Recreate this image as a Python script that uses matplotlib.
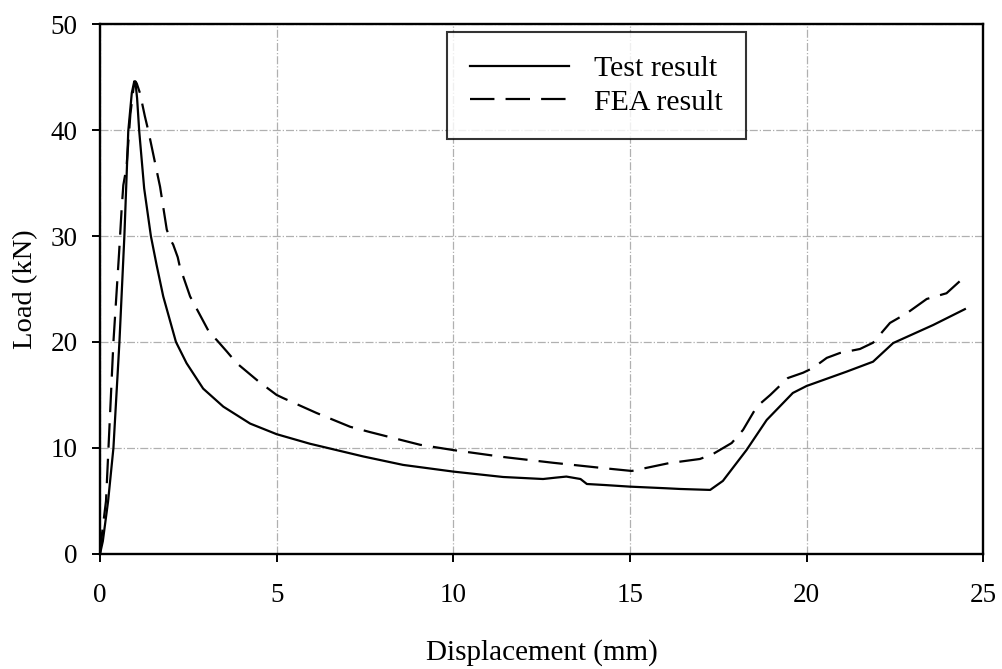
import numpy as np
import matplotlib
matplotlib.use("Agg")
import matplotlib.pyplot as plt

# Test result (solid)
test_x = [0.0, 0.08, 0.23, 0.38, 0.55, 0.69, 0.80, 0.90, 0.97, 1.01, 1.05, 1.11,
          1.25, 1.44, 1.60, 1.79, 2.15, 2.45, 2.92, 3.49, 4.25, 5.0, 5.94, 7.45,
          8.58, 10.0, 11.41, 12.54, 12.9, 13.2, 13.6, 13.78, 14.3, 15.0, 16.0, 16.42,
          17.27, 17.63, 18.30, 18.87, 19.61, 20.0, 21.13, 21.88, 22.45, 23.58, 24.48]
test_y = [0.0, 1.2, 5.0, 10.0, 20.0, 30.0, 39.9, 43.5, 44.6, 44.3, 43.0, 39.9,
          34.5, 30.0, 27.3, 24.3, 20.0, 18.0, 15.6, 13.9, 12.3, 11.3, 10.4, 9.2,
          8.4, 7.77, 7.26, 7.07, 7.2, 7.3, 7.07, 6.6, 6.5, 6.35, 6.2, 6.13,
          6.04, 6.89, 9.81, 12.64, 15.19, 15.85, 17.2, 18.14, 19.9, 21.6, 23.1]

# FEA result (dashed)
fea_x = [0.0, 0.06, 0.17, 0.24, 0.38, 0.54, 0.61, 0.66, 0.75, 0.86, 0.95, 1.0,
         1.04, 1.13, 1.27, 1.37, 1.70, 1.89, 2.0, 2.07, 2.2, 2.26, 2.55, 3.11,
         3.3, 3.59, 3.87, 4.48, 4.76, 5.0, 5.19, 6.13, 7.08, 7.64, 9.06, 10.0,
         11.41, 12.83, 14.24, 15.05, 16.15, 16.42, 16.98, 17.35, 17.88, 18.2, 18.59,
         18.97, 19.47, 19.9, 20.18, 20.57, 20.94, 21.51, 21.88, 22.36, 22.83, 23.4,
         23.96, 24.34]
fea_y = [0.0, 2.0, 5.0, 10.0, 20.0, 28.4, 32.4, 34.8, 36.5, 41.5, 44.0, 44.6,
         44.4, 43.5, 41.3, 39.9, 34.65, 30.6, 29.6, 29.2, 28.0, 27.1, 24.3, 20.8,
         20.2, 19.1, 18.0, 16.3, 15.6, 15.0, 14.7, 13.3, 12.0, 11.5, 10.3, 9.8,
         9.15, 8.6, 8.1, 7.83, 8.6, 8.71, 8.96, 9.43, 10.47, 11.7, 13.9,
         15.0, 16.6, 17.1, 17.55, 18.5, 18.96, 19.34, 19.93, 21.8, 22.7, 24.06,
         24.6, 25.75]

x_ticks = [0, 5, 10, 15, 20, 25]
y_ticks = [0, 10, 20, 30, 40, 50]

plt.rcParams['font.family'] = ['Liberation Serif', 'DejaVu Serif']

fig = plt.figure(figsize=(10.02, 6.69), dpi=100)
ax = fig.add_axes([0.0998, 0.172, 0.8815, 0.792])

ax.plot(test_x, test_y, color='black', lw=1.6, label='Test result')
ax.plot(fea_x, fea_y, color='black', lw=1.6, dashes=[11, 5], label='FEA result')

ax.set_xlim(0, 25)
ax.set_ylim(0, 50)
ax.set_xticks(x_ticks)
ax.set_yticks(y_ticks)
ax.grid(True, color='#b0b0b0', linestyle='-.', linewidth=0.9)
ax.set_axisbelow(True)
ax.tick_params(direction='out', length=6, width=1.4, labelsize=19.5)
ax.tick_params(axis='x', pad=15)
ax.tick_params(axis='y', pad=10)
for sp in ax.spines.values():
    sp.set_linewidth(1.7)

ax.set_xlabel('Displacement (mm)', fontsize=21, labelpad=22)
ax.set_ylabel('Load (kN)', fontsize=20.5, labelpad=9)

leg = ax.legend(loc='upper left', bbox_to_anchor=(0.393, 0.985), borderaxespad=0,
                fontsize=21.5, frameon=True, fancybox=False, edgecolor='black',
                handlelength=3.3, handletextpad=0.84, borderpad=0.78, labelspacing=0.22)
leg.get_frame().set_linewidth(1.5)

fig.savefig('out.png', dpi=100)
